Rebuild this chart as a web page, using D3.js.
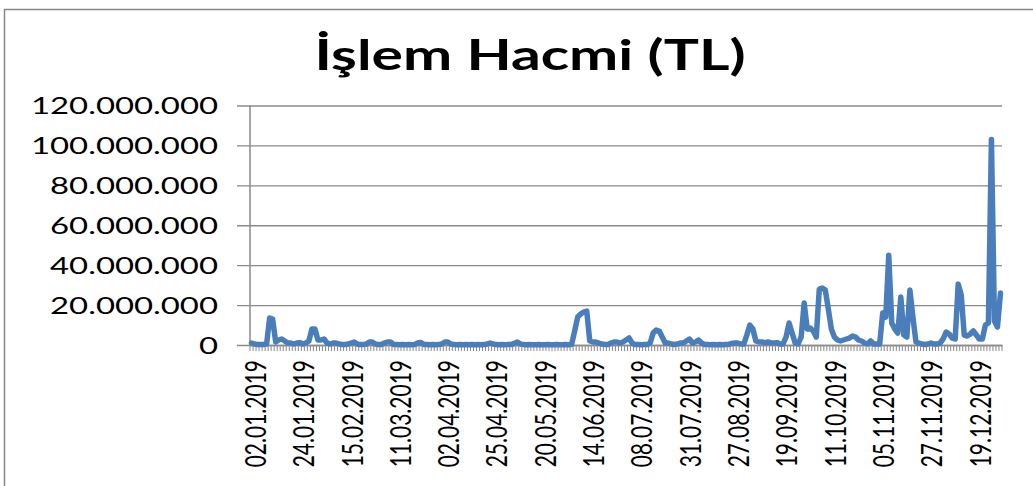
<!DOCTYPE html>
<html>
<head>
<meta charset="utf-8">
<script src="https://cdn.jsdelivr.net/npm/d3@7"></script>
<style>
  body { margin: 0; background: #fff; }
  text { font-family: Lato, "Open Sans", sans-serif; fill: #000; }
</style>
</head>
<body>
<div id="chart"></div>
<script>
const width = 1033, height = 486;
const plot = {left: 250, right: 1002, top: 105.5, bottom: 345};
const stretch = 1.35; // text in the picture is widened horizontally

// BIST closures on weekdays in 2019
const holidays = ['23.04.2019', '01.05.2019', '05.06.2019', '06.06.2019', '07.06.2019',
  '15.07.2019', '12.08.2019', '13.08.2019', '14.08.2019', '30.08.2019', '29.10.2019'];

// daily trading volume, million TL (one value per trading day)
const hacimMilyon = [
  1, 0.5, 0.2, 0.2, 0.3, 0.5, 13.5, 13, 1.5, 2.5, 3, 2, 1, 1, 0.5, 1,
  1.2, 0.5, 1, 2, 8, 8, 2.5, 2.5, 3, 1, 0.5, 1, 1, 0.5, 0.3, 0.2,
  0.5, 1, 1.5, 0.5, 0.2, 0.2, 0.5, 1.5, 1.5, 0.5, 0.2, 0.3, 1, 1.5, 1.5, 0.3,
  0.2, 0.1, 0.2, 0.1, 0.2, 0.1, 0.3, 1, 1.3, 0.3, 0.2, 0.1, 0.2, 0.1, 0.2, 0.5,
  1.5, 1.5, 0.5, 0.2, 0.1, 0.2, 0.1, 0.2, 0.1, 0.2, 0.1, 0.2, 0.1, 0.2, 0.5, 1,
  0.5, 0.2, 0.1, 0.2, 0.1, 0.2, 0.2, 0.8, 1.5, 0.5, 0.2, 0.1, 0.2, 0.1, 0.1, 0.2,
  0.1, 0.1, 0.2, 0.1, 0.1, 0.2, 0.1, 0.1, 0.2, 0.1, 0.3, 7, 14, 15.5, 16.5, 17,
  2, 1.5, 1.5, 1, 0.5, 0.3, 0.3, 1, 1.5, 1.5, 1, 1.5, 2.5, 3.5, 1, 0.2,
  0.2, 0.1, 0.2, 0.2, 1, 6, 7.5, 7, 4, 1, 1, 0.5, 0.3, 0.5, 1, 1,
  2, 3, 1, 1.5, 2.5, 1, 0.3, 0.2, 0.1, 0.2, 0.1, 0.2, 0.1, 0.2, 0.3, 0.8,
  1, 1, 0.5, 0.5, 5, 10, 8, 2, 1.5, 1.5, 1.2, 1.5, 1.2, 1, 1.2, 0.5,
  0.5, 4, 11, 6, 1, 0.5, 4, 21, 8, 8.5, 7, 4, 28, 28.5, 27.5, 18,
  8, 4, 2.5, 2, 2.5, 3, 3.5, 4.5, 4, 2.5, 2, 1, 0.5, 2, 0.5, 0.5,
  0.5, 16, 14, 45, 11, 8, 6, 24, 5, 4, 27.5, 14, 1.5, 1, 0.5, 0.3,
  0.5, 1, 0.5, 0.5, 1, 3, 6.5, 5.5, 3.5, 3, 30.5, 25, 5, 4.5, 5.5, 7,
  5, 3, 3, 10, 11, 103, 12, 9, 26
];

const yTicks = [0, 20e6, 40e6, 60e6, 80e6, 100e6, 120e6];
const labelEvery = 16;

const fmtDate = d3.timeFormat('%d.%m.%Y');
const tradingDays = d3.timeDay.range(new Date(2019, 0, 2), new Date(2020, 0, 1))
  .filter(d => d.getDay() !== 0 && d.getDay() !== 6)
  .map(fmtDate)
  .filter(s => !holidays.includes(s));

const data = tradingDays.map((d, i) => ({date: d, value: hacimMilyon[i] * 1e6}));

const tr = d3.formatLocale({decimal: ',', thousands: '.', grouping: [3], currency: ['', '']});
const fmtNum = tr.format(',.0f');

const svg = d3.select('#chart').append('svg')
  .attr('width', width)
  .attr('height', height);

svg.append('rect').attr('width', width).attr('height', height).attr('fill', '#fff');

// chart border
svg.append('rect')
  .attr('x', 4.5).attr('y', 9.5)
  .attr('width', 1100).attr('height', 600)
  .attr('fill', 'none').attr('stroke', '#868686').attr('stroke-width', 1.5);

svg.append('text')
  .attr('transform', 'translate(530,70) scale(1.4,1)')
  .attr('text-anchor', 'middle')
  .style('font-weight', 700)
  .style('font-size', '42px')
  .text('İşlem Hacmi (TL)');

const x = d3.scaleBand()
  .domain(tradingDays)
  .range([plot.left, plot.right]);

const y = d3.scaleLinear()
  .domain([0, 120e6])
  .range([plot.bottom, plot.top]);

// y axis + gridlines
const yAxis = d3.axisLeft(y)
  .tickValues(yTicks)
  .tickSizeInner(-(plot.right - plot.left))
  .tickSizeOuter(0)
  .tickFormat(fmtNum);

const gy = svg.append('g')
  .attr('transform', `translate(${plot.left},0)`)
  .call(yAxis);

gy.select('.domain').remove();
gy.selectAll('.tick line')
  .attr('x1', -13)
  .attr('stroke', '#8a8a8a')
  .attr('stroke-width', 1.3);
gy.selectAll('.tick text')
  .attr('x', 0)
  .attr('dy', '0.35em')
  .attr('transform', 'translate(-32,0) scale(1.37,1)')
  .style('font-size', '24px')
  .style('font-family', 'Lato, sans-serif')
  .attr('fill', '#000');

svg.append('line')
  .attr('x1', plot.left).attr('x2', plot.left)
  .attr('y1', plot.top).attr('y2', plot.bottom)
  .attr('stroke', '#8a8a8a').attr('stroke-width', 1.5);

// category tick marks
svg.append('g')
  .selectAll('line')
  .data(tradingDays.concat([null]))
  .join('line')
  .attr('x1', d => d ? x(d) : plot.right)
  .attr('x2', d => d ? x(d) : plot.right)
  .attr('y1', plot.bottom)
  .attr('y2', plot.bottom + 6)
  .attr('stroke', '#8a8a8a')
  .attr('stroke-width', 1);

// x axis labels
const xAxis = d3.axisBottom(x)
  .tickValues(tradingDays.filter((d, i) => i % labelEvery === 0))
  .tickSize(0);

const gx = svg.append('g')
  .attr('transform', `translate(0,${plot.bottom})`)
  .call(xAxis);

gx.select('.domain')
  .attr('stroke', '#8a8a8a')
  .attr('stroke-width', 1.5);
gx.selectAll('.tick text')
  .attr('x', 0).attr('y', 0).attr('dy', null)
  .attr('text-anchor', 'end')
  .attr('dominant-baseline', 'central')
  .attr('transform', `translate(3,15) scale(${stretch},1) rotate(-90)`)
  .style('font-size', '21px')
  .style('font-family', 'Lato, sans-serif')
  .attr('fill', '#000');

const line = d3.line()
  .x(d => x(d.date) + x.bandwidth() / 2)
  .y(d => y(d.value));

svg.append('path')
  .datum(data)
  .attr('d', line)
  .attr('fill', 'none')
  .attr('stroke', '#4a7ebb')
  .attr('stroke-width', 5.5)
  .attr('stroke-linejoin', 'round')
  .attr('stroke-linecap', 'round');
</script>
</body>
</html>
